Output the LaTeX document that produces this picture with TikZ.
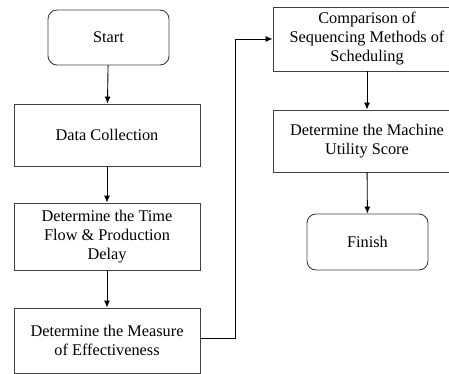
\documentclass[tikz,border=0pt]{standalone}
\usepackage{fontspec}
\setmainfont{Liberation Serif}
\usetikzlibrary{arrows.meta}
\begin{document}
\begin{tikzpicture}[x=1pt,y=-1pt,>={Latex[length=7pt,width=6pt]},line width=0.9pt,
    font=\fontsize{16.3}{19}\selectfont,
    stepbox/.style={draw=black!75,align=center,minimum width=186pt,inner sep=0pt},
    endbox/.style={draw=black!75,rounded corners=9pt,align=center,minimum width=121pt,minimum height=55pt}]
    \clip (0,0) rectangle (449,374);
    % left column
    \node (start) at (108.5,37.5) [endbox] {Start};
    \node (dc) at (107,135) [stepbox,minimum height=62pt] {Data Collection};
    \node (tf) at (107,236.5) [stepbox,minimum height=67pt] {Determine the Time\\Flow \& Production\\Delay};
    \node (moe) at (107,340.5) [stepbox,minimum height=65pt] {Determine the Measure\\of Effectiveness};
    % right column
    \node (cmp) at (367,39) [stepbox,minimum width=188pt,minimum height=64pt] {Comparison of\\Sequencing Methods of\\Scheduling};
    \node (mus) at (367,141) [stepbox,minimum width=188pt,minimum height=62pt] {Determine the Machine\\Utility Score};
    \node (fin) at (367.5,242) [endbox,minimum height=56pt] {Finish};
    \coordinate (turn) at (235,338);
    \draw [->] (start) -- (dc);
    \draw [->] (dc) -- (tf);
    \draw [->] (tf) -- (moe);
    \draw [->] (moe.east |- turn) -- (turn) |- (cmp.west);
    \draw [->] (cmp) -- (mus);
    \draw [->] (mus) -- (fin);
\end{tikzpicture}
\end{document}
